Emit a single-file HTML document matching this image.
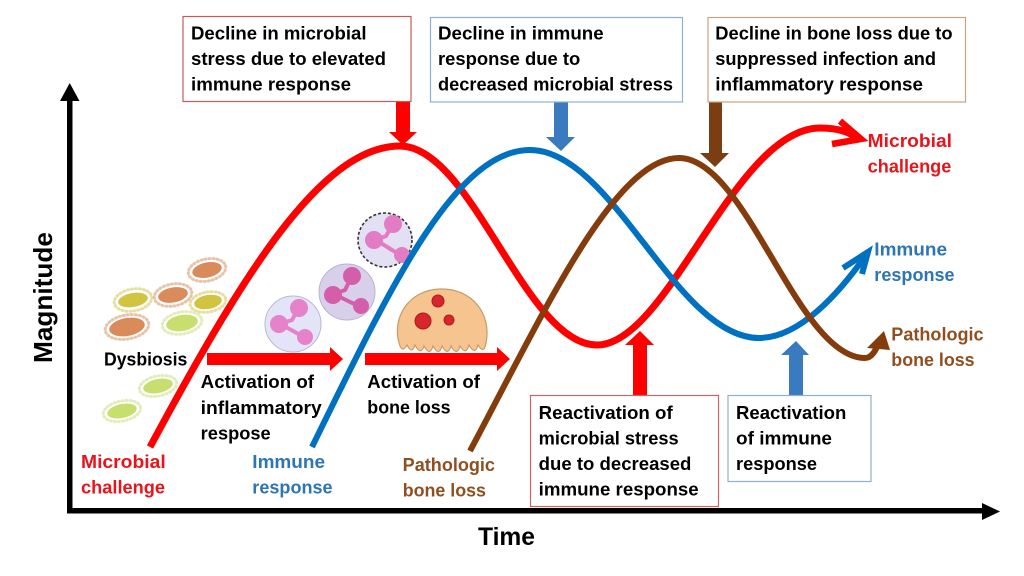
<!DOCTYPE html>
<html><head><meta charset="utf-8"><style>
html,body{margin:0;padding:0;background:#fff;}
svg{display:block;}
text{font-family:"Liberation Sans",Arial,sans-serif;font-weight:bold;font-size:18px;}
</style></head><body>
<svg width="1024" height="576" viewBox="0 0 1024 576" xmlns="http://www.w3.org/2000/svg">
<rect width="1024" height="576" fill="#fff"/>

<!-- bacteria -->
<g stroke-linecap="round">
 <g transform="rotate(-12 207 270)"><ellipse cx="207" cy="270" rx="19" ry="11" fill="none" stroke="#e8c3aa" stroke-width="3" stroke-dasharray="1 3"/><ellipse cx="207" cy="270" rx="15" ry="7.5" fill="#d98b5c"/></g>
 <g transform="rotate(-10 133 300)"><ellipse cx="133" cy="300" rx="19" ry="11" fill="none" stroke="#e6dfa0" stroke-width="3" stroke-dasharray="1 3"/><ellipse cx="133" cy="300" rx="15" ry="7" fill="#d2c440"/></g>
 <g transform="rotate(-10 173 295)"><ellipse cx="173" cy="295" rx="19" ry="11" fill="none" stroke="#e8c3aa" stroke-width="3" stroke-dasharray="1 3"/><ellipse cx="173" cy="295" rx="15" ry="7.5" fill="#d98b5c"/></g>
 <g transform="rotate(-10 208 302)"><ellipse cx="208" cy="302" rx="18" ry="10" fill="none" stroke="#e6dfa0" stroke-width="3" stroke-dasharray="1 3"/><ellipse cx="208" cy="302" rx="14" ry="7" fill="#d2c440"/></g>
 <g transform="rotate(-10 127 327)"><ellipse cx="127" cy="327" rx="22" ry="12" fill="none" stroke="#e8c3aa" stroke-width="3" stroke-dasharray="1 3"/><ellipse cx="127" cy="327" rx="18" ry="9" fill="#d98b5c"/></g>
 <g transform="rotate(-10 182 323)"><ellipse cx="182" cy="323" rx="20" ry="11" fill="none" stroke="#e3edbb" stroke-width="3" stroke-dasharray="1 3"/><ellipse cx="182" cy="323" rx="16" ry="8" fill="#c8de6e"/></g>
 <g transform="rotate(-12 158 386)"><ellipse cx="158" cy="386" rx="19" ry="10" fill="none" stroke="#e3edbb" stroke-width="3" stroke-dasharray="1 3"/><ellipse cx="158" cy="386" rx="15" ry="7" fill="#c8de6e"/></g>
 <g transform="rotate(-12 122 411)"><ellipse cx="122" cy="411" rx="19" ry="10" fill="none" stroke="#e3edbb" stroke-width="3" stroke-dasharray="1 3"/><ellipse cx="122" cy="411" rx="15" ry="7" fill="#c8de6e"/></g>
</g>

<!-- cells -->
<circle cx="385" cy="240" r="27" fill="#e4e0f4" stroke="#333" stroke-width="1.6" stroke-dasharray="3 2"/>
<g fill="#e27cc4" stroke="#e27cc4" stroke-width="4" stroke-linecap="round">
 <path d="M393,224 L386,236 L376,240 M376,240 L392,250 L402,256" fill="none"/>
 <circle cx="393" cy="224" r="7"/><circle cx="374" cy="240" r="7"/><circle cx="402" cy="255" r="6"/>
</g>
<circle cx="347" cy="292" r="28" fill="#d8d0ea" stroke="#b9b2d4" stroke-width="1"/>
<g fill="#d45ea9" stroke="#d45ea9" stroke-width="4" stroke-linecap="round">
 <path d="M352,276 L345,290 L334,294 M334,294 L350,302 L361,307" fill="none"/>
 <circle cx="352" cy="276" r="7"/><circle cx="333" cy="295" r="7"/><circle cx="361" cy="306" r="6"/>
</g>
<circle cx="293" cy="324" r="28" fill="#e4e4f8" stroke="#b8b8d6" stroke-width="1"/>
<g fill="#e582c9" stroke="#e582c9" stroke-width="4" stroke-linecap="round">
 <path d="M298,309 L292,320 L280,324 M280,324 L295,332 L305,338" fill="none"/>
 <circle cx="299" cy="308" r="7"/><circle cx="279" cy="324" r="7"/><circle cx="305" cy="337" r="6"/>
</g>

<!-- osteoclast -->
<path d="M399,343 C392,318 408,290 440,289 C472,288 492,314 486,343
 Q484,355 478,345 Q475,356 469,345 Q466,356 460,346 Q457,357 451,346 Q448,357 442,346 Q439,357 433,346 Q430,357 424,346 Q421,356 415,345 Q412,355 407,345 Q402,354 399,343 Z"
 fill="#f6c48f" stroke="#c89a66" stroke-width="1.2"/>
<circle cx="438" cy="301" r="6" fill="#d8262c" stroke="#a81c20" stroke-width="1"/>
<circle cx="423" cy="321" r="8" fill="#d8262c" stroke="#a81c20" stroke-width="1"/>
<circle cx="449" cy="320" r="5" fill="#d8262c" stroke="#a81c20" stroke-width="1"/>

<!-- curves -->
<g fill="none" stroke-linecap="butt" stroke-linejoin="miter">
 <path d="M150,447 C240,280 320,146 400,146 C471.6,146 525.4,345 597,345 C668,345 735,128 820,128 C838,128 850,132 858,139" stroke="#ff0000" stroke-width="7"/>
 <path d="M840,121 L861,139 L832,144" stroke="#ff0000" stroke-width="6.5"/>
 <path d="M312,447 C390,288 455,150 530,150 C613,150 676,338 759,338 C800,338 840,292 866,255" stroke="#0070c0" stroke-width="6"/>
 <path d="M843,268 L868,252 L862,274" stroke="#0070c0" stroke-width="6"/>
 <path d="M470,451 C545,310 615,158 679,158 C746.5,158 797.5,358 865,358 C872,358 876,350 879,342" stroke="#843c0c" stroke-width="6"/>
</g>
<polygon points="884,331 867,348 890,350" fill="#843c0c"/>

<!-- axes -->
<rect x="67" y="98" width="5.5" height="415" fill="#000"/>
<polygon points="60,101 79.5,101 69.7,83" fill="#000"/>
<rect x="67" y="508" width="917" height="5.5" fill="#000"/>
<polygon points="982,503 982,520 1000,511.5" fill="#000"/>

<!-- horizontal red arrows -->
<polygon points="207,353 330,353 330,347 343,359 330,371 330,365 207,365" fill="#ff0000"/>
<polygon points="365,353 497,353 497,347 510,359 497,371 497,365 365,365" fill="#ff0000"/>

<!-- vertical arrows -->
<polygon points="396,101 410,101 410,132 417,132 403,145 389,132 396,132" fill="#ff0000"/>
<polygon points="554,102 568,102 568,137 575,137 561,151 546,137 554,137" fill="#3a7bbf"/>
<polygon points="709,102 722,102 722,153 729,153 715,167 700,153 709,153" fill="#7b3d12"/>
<polygon points="633,395 647,395 647,345 654,345 640,331 625,345 633,345" fill="#ff0000"/>
<polygon points="789,395 803,395 803,355 809,355 796,341 781,355 789,355" fill="#3a7bbf"/>

<!-- boxes -->
<rect x="183" y="16.5" width="228" height="85" fill="#fff" stroke="#c85a5a" stroke-width="1.2"/>
<rect x="430.5" y="17.5" width="252" height="84.5" fill="#fff" stroke="#8fb0cf" stroke-width="1.2"/>
<rect x="708" y="17.5" width="257.5" height="84.5" fill="#fff" stroke="#c8a482" stroke-width="1.2"/>
<rect x="530.5" y="395.5" width="188" height="111" fill="#fff" stroke="#cc6666" stroke-width="1.2"/>
<rect x="728" y="395.5" width="143" height="86" fill="#fff" stroke="#8fb0cf" stroke-width="1.2"/>

<!-- box text -->
<g fill="#000">
 <text x="191" y="39.5" textLength="175.5" lengthAdjust="spacingAndGlyphs">Decline in microbial</text>
 <text x="191" y="65" textLength="195" lengthAdjust="spacingAndGlyphs">stress due to elevated</text>
 <text x="191" y="90.5" textLength="160" lengthAdjust="spacingAndGlyphs">immune response</text>

 <text x="438" y="39.5" textLength="165.7" lengthAdjust="spacingAndGlyphs">Decline in immune</text>
 <text x="438" y="65" textLength="142.3" lengthAdjust="spacingAndGlyphs">response due to</text>
 <text x="438" y="90.5" textLength="235" lengthAdjust="spacingAndGlyphs">decreased microbial stress</text>

 <text x="715.3" y="39.5" textLength="237.3" lengthAdjust="spacingAndGlyphs">Decline in bone loss due to</text>
 <text x="715.3" y="65" textLength="220.7" lengthAdjust="spacingAndGlyphs">suppressed infection and</text>
 <text x="715.3" y="90.5" textLength="207.7" lengthAdjust="spacingAndGlyphs">inflammatory response</text>

 <text x="538.7" y="419" textLength="134" lengthAdjust="spacingAndGlyphs">Reactivation of</text>
 <text x="538.7" y="444.7" textLength="140" lengthAdjust="spacingAndGlyphs">microbial stress</text>
 <text x="538.7" y="470" textLength="152.7" lengthAdjust="spacingAndGlyphs">due to decreased</text>
 <text x="538.7" y="495.5" textLength="160" lengthAdjust="spacingAndGlyphs">immune response</text>

 <text x="736" y="419" textLength="110.3" lengthAdjust="spacingAndGlyphs">Reactivation</text>
 <text x="736" y="444.7" textLength="96" lengthAdjust="spacingAndGlyphs">of immune</text>
 <text x="736" y="470" textLength="81" lengthAdjust="spacingAndGlyphs">response</text>

 <text x="104" y="365.5" textLength="83.3" lengthAdjust="spacingAndGlyphs">Dysbiosis</text>
 <text x="200.7" y="388" textLength="113.3" lengthAdjust="spacingAndGlyphs">Activation of</text>
 <text x="200.7" y="414" textLength="121" lengthAdjust="spacingAndGlyphs">inflammatory</text>
 <text x="200.7" y="439.5" textLength="70" lengthAdjust="spacingAndGlyphs">respose</text>
 <text x="367.3" y="388" textLength="112.7" lengthAdjust="spacingAndGlyphs">Activation of</text>
 <text x="367.3" y="413.5" textLength="83.3" lengthAdjust="spacingAndGlyphs">bone loss</text>

 <text x="478" y="545" style="font-size:25px" textLength="57" lengthAdjust="spacingAndGlyphs">Time</text>
 <text transform="translate(52,363) rotate(-90)" x="0" y="0" style="font-size:26px" textLength="131" lengthAdjust="spacingAndGlyphs">Magnitude</text>
</g>

<!-- colored labels -->
<g fill="#e8141c">
 <text x="81" y="468" textLength="84.7" lengthAdjust="spacingAndGlyphs">Microbial</text>
 <text x="81" y="493.5" textLength="84" lengthAdjust="spacingAndGlyphs">challenge</text>
 <text x="867.7" y="147" textLength="84.3" lengthAdjust="spacingAndGlyphs">Microbial</text>
 <text x="867.7" y="172.5" textLength="83.6" lengthAdjust="spacingAndGlyphs">challenge</text>
</g>
<g fill="#2e75b6">
 <text x="252.3" y="468" textLength="72.7" lengthAdjust="spacingAndGlyphs">Immune</text>
 <text x="252.3" y="493.5" textLength="80.3" lengthAdjust="spacingAndGlyphs">response</text>
 <text x="874.3" y="255.5" textLength="72.7" lengthAdjust="spacingAndGlyphs">Immune</text>
 <text x="874.3" y="281" textLength="80.3" lengthAdjust="spacingAndGlyphs">response</text>
</g>
<g fill="#8f4f20">
 <text x="402.7" y="471" textLength="92.3" lengthAdjust="spacingAndGlyphs">Pathologic</text>
 <text x="402.7" y="496.5" textLength="83.3" lengthAdjust="spacingAndGlyphs">bone loss</text>
 <text x="891.3" y="340.5" textLength="92.3" lengthAdjust="spacingAndGlyphs">Pathologic</text>
 <text x="891.3" y="366" textLength="83.3" lengthAdjust="spacingAndGlyphs">bone loss</text>
</g>
</svg>
</body></html>
